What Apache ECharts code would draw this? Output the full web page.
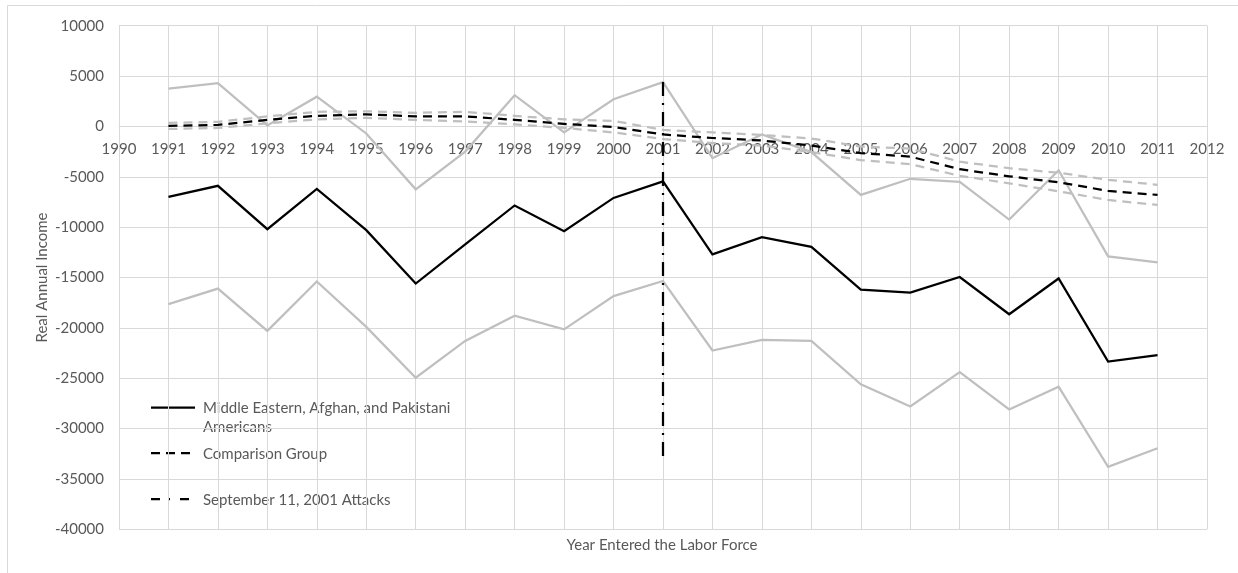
<!DOCTYPE html>
<html>
<head>
<meta charset="utf-8">
<title>Real Annual Income by Year Entered the Labor Force</title>
<script src="https://cdn.jsdelivr.net/npm/echarts@6/dist/echarts.min.js"></script>
<style>
  html, body { margin: 0; padding: 0; background: #ffffff; }
  #chart { width: 1238px; height: 573px; }
</style>
</head>
<body>
<div id="chart"></div>
<script>
// Year each cohort entered the labor force
const years = [1991, 1992, 1993, 1994, 1995, 1996, 1997, 1998, 1999, 2000, 2001,
               2002, 2003, 2004, 2005, 2006, 2007, 2008, 2009, 2010, 2011];

// Middle Eastern, Afghan, and Pakistani Americans: estimate and interval bounds
const meapa      = [-7000, -5900, -10200, -6200, -10300, -15600, -11700, -7850, -10400, -7100, -5450,
                    -12700, -11000, -11950, -16200, -16500, -14950, -18650, -15100, -23350, -22700];
const meapaUpper = [3750, 4300, 100, 2950, -700, -6250, -2500, 3100, -600, 2700, 4400,
                    -3150, -800, -2550, -6800, -5200, -5500, -9250, -4350, -12900, -13500];
const meapaLower = [-17650, -16100, -20300, -15400, -19900, -24950, -21300, -18800, -20150, -16850, -15350,
                    -22250, -21200, -21300, -25600, -27800, -24400, -28100, -25850, -33800, -31950];

// Comparison group: estimate and interval bounds
const comparison = [50, 150, 650, 1050, 1200, 1000, 1000, 650, 250, -50, -800,
                    -1150, -1400, -1900, -2650, -3000, -4250, -4950, -5550, -6400, -6800];
const compUpper  = [350, 450, 1000, 1450, 1500, 1350, 1450, 1050, 700, 550, -350,
                    -600, -850, -1200, -2000, -2200, -3500, -4150, -4600, -5300, -5800];
const compLower  = [-250, -150, 300, 700, 850, 650, 500, 200, -150, -600, -1250,
                    -1650, -1900, -2550, -3350, -3750, -4900, -5650, -6450, -7300, -7800];

// September 11 marker: year and the vertical extent of the line
const attackYear = 2001;
const attackRange = [4400, -33300];

// Axis ranges and tick steps
const xRange = [1990, 2012];
const xStep = 1;
const yRange = [-40000, 10000];
const yStep = 5000;

const WIDTH = 1238, HEIGHT = 573;
const GRID_BOX = { left: 119, right: 31, top: 25.7, bottom: 43.7 };
// The year axis crosses the income axis at zero: shift it up from the grid bottom.
const plotHeight = HEIGHT - GRID_BOX.top - GRID_BOX.bottom;
const zeroOffset = plotHeight * (0 - yRange[0]) / (yRange[1] - yRange[0]);

const FONT = 'Lato, "Open Sans", sans-serif';
const FONT_SIZE = 15;
const TEXT = '#595959';
const GRID = '#d9d9d9';
const GRAY = '#bfbfbf';
const DASH = [9, 6];
const DASH_DOT = [14, 7, 2, 7];

const pairs = arr => years.map((y, i) => [y, arr[i]]);

function line(name, data, color, type, z) {
  return {
    name: name,
    type: 'line',
    data: data,
    symbol: 'none',
    showSymbol: false,
    silent: true,
    z: z,
    lineStyle: { color: color, width: 2.25, type: type, cap: 'butt', join: 'miter' }
  };
}

const chart = echarts.init(document.getElementById('chart'), null, { renderer: 'canvas' });

const legendItems = [
  { y: 407.5, dash: null, lines: ['Middle Eastern, Afghan, and Pakistani', 'Americans'] },
  { y: 453, dash: DASH, lines: ['Comparison Group'] },
  { y: 499, dash: [9, 8, 2, 10], lines: ['September 11, 2001 Attacks'] }
];

const overlay = [
  {
    type: 'rect',
    shape: { x: 7.5, y: 5.5, width: 1300, height: 700 },
    style: { fill: null, stroke: GRID, lineWidth: 1 },
    silent: true,
    z: -10
  },
  {
    type: 'text',
    x: 662,
    y: 545,
    style: {
      text: 'Year Entered the Labor Force', fill: TEXT,
      font: FONT_SIZE + 'px ' + FONT, textAlign: 'center', textVerticalAlign: 'middle'
    },
    silent: true
  }
];
legendItems.forEach(item => {
  overlay.push({
    type: 'line',
    shape: { x1: 151, y1: item.y, x2: 195, y2: item.y },
    style: { stroke: '#000000', lineWidth: 2.25, lineDash: item.dash || null },
    silent: true
  });
  item.lines.forEach((t, k) => {
    overlay.push({
      type: 'text',
      x: 203,
      y: item.y + 1 + k * 18.5,
      style: { text: t, fill: TEXT, font: FONT_SIZE + 'px ' + FONT, textVerticalAlign: 'middle', textAlign: 'left' },
      silent: true
    });
  });
});

chart.setOption({
  animation: false,
  backgroundColor: '#ffffff',
  grid: Object.assign({ containLabel: false }, GRID_BOX),
  xAxis: {
    type: 'value',
    position: 'bottom',
    offset: -zeroOffset,
    min: xRange[0], max: xRange[1], interval: xStep,
    axisLine: { show: true, onZero: false, lineStyle: { color: GRID, width: 1 } },
    axisTick: { show: false },
    axisLabel: {
      color: TEXT, fontFamily: FONT, fontSize: FONT_SIZE, margin: 15,
      formatter: v => String(v)
    },
    splitLine: { show: true, lineStyle: { color: GRID, width: 1 } }
  },
  yAxis: {
    type: 'value',
    min: yRange[0], max: yRange[1], interval: yStep,
    axisLine: { show: false, onZero: false },
    axisTick: { show: false },
    axisLabel: {
      color: TEXT, fontFamily: FONT, fontSize: FONT_SIZE, margin: 15,
      formatter: v => String(v)
    },
    splitLine: { show: true, lineStyle: { color: GRID, width: 1 } },
    name: 'Real Annual Income',
    nameLocation: 'middle',
    nameGap: 69,
    nameMoveOverlap: false,
    nameRotate: 90,
    nameTextStyle: { color: TEXT, fontFamily: FONT, fontSize: FONT_SIZE }
  },
  series: [
    line('Comparison Upper', pairs(compUpper), GRAY, DASH, 2),
    line('Comparison Lower', pairs(compLower), GRAY, DASH, 2),
    line('MEAPA Upper', pairs(meapaUpper), GRAY, 'solid', 3),
    line('MEAPA Lower', pairs(meapaLower), GRAY, 'solid', 3),
    line('Comparison Group', pairs(comparison), '#000000', DASH, 4),
    line('Middle Eastern, Afghan, and Pakistani Americans', pairs(meapa), '#000000', 'solid', 5),
    line('September 11, 2001 Attacks',
         attackRange.map(v => [attackYear, v]), '#000000', DASH_DOT, 6)
  ],
  graphic: overlay
});
</script>
</body>
</html>
